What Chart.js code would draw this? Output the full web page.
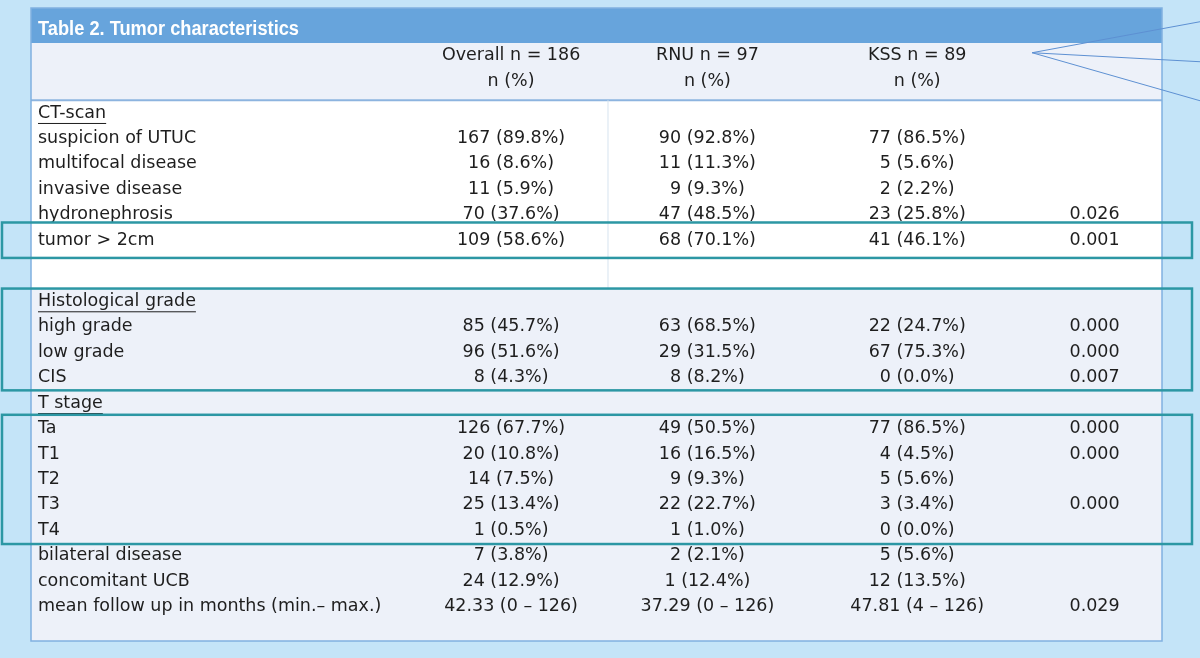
<!DOCTYPE html>
<html>
<head>
<meta charset="utf-8">
<script src="https://cdn.jsdelivr.net/npm/chart.js@4.4.1/dist/chart.umd.min.js"></script>
<style>
html, body { margin: 0; padding: 0; background: #c4e4f8; }
#wrap { width: 1200px; height: 658px; }
</style>
</head>
<body>
<div id="wrap"><canvas id="table"></canvas></div>
<script>
var title = 'Table 2. Tumor characteristics';
var groupHeads = ['Overall n = 186', 'RNU n = 97', 'KSS n = 89', ''];
var subHeads = ['n (%)', 'n (%)', 'n (%)', ''];

var rowLabels = [
    'CT-scan', 'suspicion of UTUC', 'multifocal disease', 'invasive disease', 'hydronephrosis', 'tumor > 2cm',
    '',
    'Histological grade', 'high grade', 'low grade', 'CIS',
    'T stage', 'Ta', 'T1', 'T2', 'T3', 'T4',
    'bilateral disease', 'concomitant UCB', 'mean follow up in months (min.\u2013 max.)'
];
var sectionRows = [0, 7, 11];
var spacerRows = [6];

var overall = ['', '167 (89.8%)', '16 (8.6%)', '11 (5.9%)', '70 (37.6%)', '109 (58.6%)', '',
    '', '85 (45.7%)', '96 (51.6%)', '8 (4.3%)',
    '', '126 (67.7%)', '20 (10.8%)', '14 (7.5%)', '25 (13.4%)', '1 (0.5%)',
    '7 (3.8%)', '24 (12.9%)', '42.33 (0 \u2013 126)'];
var rnu = ['', '90 (92.8%)', '11 (11.3%)', '9 (9.3%)', '47 (48.5%)', '68 (70.1%)', '',
    '', '63 (68.5%)', '29 (31.5%)', '8 (8.2%)',
    '', '49 (50.5%)', '16 (16.5%)', '9 (9.3%)', '22 (22.7%)', '1 (1.0%)',
    '2 (2.1%)', '1 (12.4%)', '37.29 (0 \u2013 126)'];
var kss = ['', '77 (86.5%)', '5 (5.6%)', '2 (2.2%)', '23 (25.8%)', '41 (46.1%)', '',
    '', '22 (24.7%)', '67 (75.3%)', '0 (0.0%)',
    '', '77 (86.5%)', '4 (4.5%)', '5 (5.6%)', '3 (3.4%)', '0 (0.0%)',
    '5 (5.6%)', '12 (13.5%)', '47.81 (4 \u2013 126)'];
var pValues = ['', '', '', '', '0.026', '0.001', '',
    '', '0.000', '0.000', '0.007',
    '', '0.000', '0.000', '', '0.000', '',
    '', '', '0.029'];

// layout / style
var colWidths = [384, 193, 200, 220, 135];
var headRows = 2, headGap = 0.25, spacerHeight = 1.4, bottomPad = 0.85;
var titleHeight = 35;
var boxes = [{ from: 5, to: 5, pad: 5 }, { from: 7, to: 10, pad: 0 }, { from: 12, to: 16, pad: 1 }];
var font = '17.5px "DejaVu Sans", sans-serif';

function rowTop(i) {
    var u = headRows + headGap;
    for (var k = 0; k < i; k++) u += spacerRows.indexOf(k) >= 0 ? spacerHeight : 1;
    return u;
}
function rowHeight(i) { return spacerRows.indexOf(i) >= 0 ? spacerHeight : 1; }
var bodyEnd = rowTop(rowLabels.length);
var totalUnits = bodyEnd + bottomPad;
var totalWidth = colWidths.reduce(function (a, b) { return a + b; }, 0);
function colStart(c) {
    var s = 0;
    for (var k = 0; k < c; k++) s += colWidths[k];
    return s;
}

var tablePlugin = {
    id: 'tablePlugin',
    beforeDraw: function (chart) {
        var ctx = chart.ctx, x = chart.scales.x, y = chart.scales.y;
        var left = x.getPixelForValue(0), right = x.getPixelForValue(totalWidth);
        var top = y.getPixelForValue(0), bottom = y.getPixelForValue(totalUnits);
        var headEnd = y.getPixelForValue(headRows + headGap);
        var whiteEnd = y.getPixelForValue(rowTop(spacerRows[0] + 1));
        ctx.save();
        ctx.fillStyle = '#c4e4f8';
        ctx.fillRect(0, 0, chart.width, chart.height);
        ctx.fillStyle = '#edf1f9';
        ctx.fillRect(left, top, right - left, bottom - top);
        ctx.fillStyle = '#ffffff';
        ctx.fillRect(left, headEnd, right - left, whiteEnd - headEnd);
        ctx.fillStyle = '#67a4dc';
        ctx.fillRect(left, top - titleHeight, right - left, titleHeight);
        // divider under header
        ctx.strokeStyle = '#8db4df';
        ctx.lineWidth = 2;
        ctx.beginPath();
        ctx.moveTo(left, headEnd);
        ctx.lineTo(right, headEnd);
        ctx.stroke();
        // faint column line in the white part
        var vx = x.getPixelForValue(colStart(2));
        ctx.strokeStyle = '#d7e3ef';
        ctx.lineWidth = 1;
        ctx.beginPath();
        ctx.moveTo(vx + 0.5, headEnd);
        ctx.lineTo(vx + 0.5, whiteEnd);
        ctx.stroke();
        // panel border
        ctx.strokeStyle = '#80b0e0';
        ctx.lineWidth = 1.5;
        ctx.strokeRect(left, top - titleHeight, right - left, bottom - top + titleHeight);
        ctx.restore();
    },
    afterDraw: function (chart) {
        var ctx = chart.ctx, x = chart.scales.x, y = chart.scales.y;
        var left = x.getPixelForValue(0), right = x.getPixelForValue(totalWidth);
        var top = y.getPixelForValue(0);
        var cols = [overall, rnu, kss, pValues];
        ctx.save();
        // title (squeezed a little to the reference width)
        ctx.fillStyle = '#ffffff';
        ctx.font = 'bold 20px "Liberation Sans", Arial, sans-serif';
        ctx.textBaseline = 'middle';
        ctx.textAlign = 'left';
        ctx.fillText(title, left + 7, top - titleHeight / 2 + 4, 261);

        ctx.fillStyle = '#1e1e1e';
        ctx.font = font;
        // headers
        ctx.textAlign = 'center';
        for (var c = 0; c < 4; c++) {
            var cx = x.getPixelForValue(colStart(c + 1) + colWidths[c + 1] / 2);
            ctx.fillText(groupHeads[c], cx, y.getPixelForValue(0.5));
            ctx.fillText(subHeads[c], cx, y.getPixelForValue(1.5));
        }
        // body
        for (var i = 0; i < rowLabels.length; i++) {
            var cy = y.getPixelForValue(rowTop(i) + rowHeight(i) / 2);
            var lx = left + 7;
            ctx.textAlign = 'left';
            ctx.fillText(rowLabels[i], lx, cy);
            if (sectionRows.indexOf(i) >= 0) {
                var w = ctx.measureText(rowLabels[i]).width;
                ctx.strokeStyle = '#1e1e1e';
                ctx.lineWidth = 1;
                ctx.beginPath();
                ctx.moveTo(lx, cy + 10.5);
                ctx.lineTo(lx + w, cy + 10.5);
                ctx.stroke();
            }
            ctx.textAlign = 'center';
            for (var c2 = 0; c2 < 4; c2++) {
                var cx2 = x.getPixelForValue(colStart(c2 + 1) + colWidths[c2 + 1] / 2);
                ctx.fillText(cols[c2][i], cx2, cy);
            }
        }
        // highlight boxes
        ctx.strokeStyle = '#2c97a4';
        ctx.lineWidth = 2.5;
        boxes.forEach(function (b) {
            var by0 = y.getPixelForValue(rowTop(b.from)) - b.pad;
            var by1 = y.getPixelForValue(rowTop(b.to) + rowHeight(b.to)) + b.pad;
            ctx.strokeRect(left - 29, by0, right - left + 59, by1 - by0);
        });
        // callout lines from the KSS header
        var sx = x.getPixelForValue(colStart(4)) + 5, sy = y.getPixelForValue(0.5) - 3;
        ctx.strokeStyle = '#5d90d2';
        ctx.lineWidth = 1;
        [-31, 9, 48].forEach(function (dy) {
            ctx.beginPath();
            ctx.moveTo(sx, sy);
            ctx.lineTo(chart.width, sy + dy);
            ctx.stroke();
        });
        ctx.restore();
    }
};

var ctx = document.getElementById('table').getContext('2d');
var tableChart = new Chart(ctx, {
    type: 'scatter',
    data: { datasets: [] },
    options: {
        responsive: true,
        maintainAspectRatio: false,
        animation: false,
        layout: { padding: { left: 31, right: 38, top: 43, bottom: 17 } },
        scales: {
            x: { type: 'linear', min: 0, max: totalWidth, display: false },
            y: { type: 'linear', min: 0, max: totalUnits, reverse: true, display: false }
        },
        plugins: { legend: { display: false }, tooltip: { enabled: false } }
    },
    plugins: [tablePlugin]
});
</script>
</body>
</html>
